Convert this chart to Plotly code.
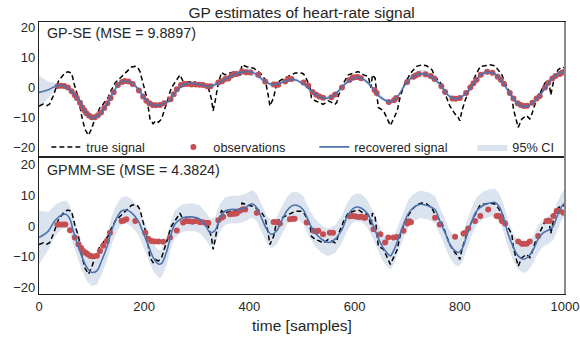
import numpy as np
import plotly.graph_objects as go
from plotly.subplots import make_subplots

# ---------------- data ----------------
true_t = [0, 8, 15, 20, 27, 37, 43, 49, 55, 62, 68, 75, 81, 87, 94, 100, 106, 111, 116, 121,
          126, 131, 135, 145, 157, 170, 176, 183, 188, 192, 198, 205, 211, 217, 222, 227, 233,
          238, 243, 248, 252, 256, 262, 268, 274, 284, 293, 300, 306, 312, 322, 328, 331, 335,
          341, 347, 354, 363, 373, 382, 386, 395, 402, 408, 417, 424, 430, 433, 436, 439, 446,
          452, 461, 474, 487, 499, 503, 509, 515, 518, 525, 534, 540, 544, 550, 557, 563, 566,
          569, 579, 588, 598, 607, 617, 626, 631, 634, 639, 642, 645, 655, 661, 668, 674, 681,
          687, 696, 703, 709, 718, 728, 737, 747, 753, 759, 766, 775, 781, 791, 797, 800, 804,
          810, 820, 829, 839, 848, 857, 867, 873, 880, 889, 899, 902, 908, 911, 918, 927, 933,
          937, 943, 949, 956, 962, 969, 973, 977, 981, 987, 994, 1000]
true_v = [-6.1, -5.5, -6.0, -5.5, -2.8, 2.1, 3.5, 4.8, 5.2, 4.8, 0.4, -3.4, -9.3, -13.7, -15.8,
          -13.7, -10.4, -8.5, -6.6, -5.8, -4.4, -3.5, -1.7, 1.6, 3.7, 5.9, 6.8, 7.0, 6.5, 5.3,
          1.6, -3.4, -10.4, -12.0, -11.0, -11.5, -10.4, -8.0, -5.0, -2.0, 0.0, 1.0, 2.6, 4.2,
          2.0, 1.8, 2.0, 1.5, 1.7, 1.0, -0.1, -3.9, -7.7, -4.4, 1.5, 5.0, 4.2, 4.8, 5.3, 4.2,
          7.5, 6.9, 6.6, 6.4, 5.3, 4.2, 2.6, 0.4, -2.8, -6.1, -3.4, 1.5, 2.6, 3.7, 4.8, 4.8,
          4.5, 2.6, 0.4, -3.4, -4.4, -5.0, -5.6, -5.2, -4.4, -5.0, -5.5, -5.0, -2.8, 1.5, 4.2,
          4.8, 5.3, 4.2, 3.7, 0.0, 4.2, 3.1, -2.3, -6.6, -7.7, -9.9, -12.6, -10.4, -7.7, -2.8,
          1.5, 3.7, 5.3, 7.0, 7.5, 7.2, 5.9, 3.7, 2.6, 1.0, -3.4, -6.1, -8.8, -9.9, -11.0,
          -7.7, -4.4, 0.4, 3.7, 7.0, 7.2, 7.5, 7.2, 5.9, 4.2, 0.4, -2.8, -7.2, -11.0, -13.2,
          -10.4, -9.3, -10.4, -8.8, -5.5, -3.4, -0.6, 1.5, 2.6, -2.5, 1.0, 4.2, 5.9, 6.8, 6.5]

# GP-SE (top)
gp_t = [0, 18, 37, 49, 62, 75, 87, 95, 103, 116, 129, 141, 154, 164, 176, 189, 202, 214, 227,
        240, 249, 255, 262, 274, 287, 306, 322, 338, 354, 370, 386, 398, 411, 424, 439, 449,
        461, 477, 490, 502, 506, 518, 531, 544, 557, 569, 582, 595, 607, 620, 633, 645, 658,
        668, 677, 687, 696, 709, 722, 734, 747, 760, 772, 778, 791, 804, 816, 829, 842, 854,
        867, 880, 893, 905, 918, 930, 943, 956, 969, 981, 994, 1000]
gp_mean = [-1.6, -0.7, 0.8, 0.4, -1.2, -3.9, -7.7, -9.5, -10.1, -8.8, -5.6, -1.7, 1.6, 2.1,
           1.6, -0.6, -3.9, -5.6, -5.9, -5.0, -4.4, -2.3, -1.2, 1.0, 1.5, 1.0, 0.4, 1.2, 2.8,
           4.2, 5.1, 5.3, 4.6, 2.8, 1.2, 1.0, 1.7, 2.6, 2.4, 1.2, 0.8, -1.2, -2.8, -3.6, -3.0,
           -1.2, 1.2, 2.8, 3.4, 2.4, 0.1, -2.6, -4.2, -4.7, -3.9, -1.7, 1.0, 3.4, 4.5, 4.5, 3.5,
           1.5, -1.3, -2.6, -3.7, -3.0, -1.2, 2.0, 4.5, 5.1, 4.5, 2.0, -1.4, -4.4, -6.1, -6.1,
           -4.4, -1.7, 1.5, 3.9, 5.1, 5.5]
gp_ci = [5.6, 2.6, 0.6, 0.5, 0.5, 0.5, 0.5, 0.5, 0.5, 0.5, 0.5, 0.6, 0.6, 0.7, 0.7, 0.6, 0.5,
         0.5, 0.5, 0.5, 0.5, 0.5, 0.5, 0.5, 0.6, 0.6, 0.7, 0.7, 0.8, 1.0, 1.2, 1.2, 1.1, 0.8,
         0.6, 0.6, 0.6, 0.6, 0.6, 0.6, 0.6, 0.6, 0.6, 0.6, 0.6, 0.6, 0.6, 0.7, 0.7, 0.7, 0.7,
         0.7, 0.6, 0.6, 0.6, 0.6, 0.7, 0.9, 1.2, 1.3, 1.1, 0.8, 0.6, 0.6, 0.6, 0.6, 0.6, 0.6,
         0.8, 0.9, 0.8, 0.6, 0.6, 0.6, 0.6, 0.6, 0.6, 0.6, 0.6, 0.6, 0.7, 0.8]
gp_obs_t = [36, 42, 48, 55, 62, 68, 72, 78, 82, 86, 90, 95, 100, 106, 112, 118, 124, 130, 136,
            142, 150, 158, 163, 170, 178, 190, 198, 204, 210, 216, 222, 230, 238, 250, 256, 262,
            270, 276, 282, 290, 298, 305, 312, 320, 326, 341, 348, 354, 360, 366, 371, 376, 386,
            394, 402, 417, 430, 446, 451, 455, 468, 474, 480, 503, 512, 520, 527, 533, 540, 556,
            563, 576, 590, 596, 600, 606, 612, 638, 642, 665, 675, 679, 700, 712, 716, 722, 735,
            745, 752, 765, 772, 786, 792, 800, 812, 820, 826, 832, 840, 852, 862, 872, 878, 884,
            895, 902, 910, 916, 922, 928, 938, 946, 952, 962, 968, 976, 982, 990, 995, 1000]
gp_obs_v = [0.5, 0.6, 0.5, 0.0, -1.2, -2.5, -3.5, -5.0, -6.5, -7.5, -8.5, -9.3, -9.8, -9.8,
            -9.2, -8.3, -6.8, -5.2, -3.5, -1.6, 0.8, 1.8, 2.2, 2.0, 1.2, -1.0, -3.0, -4.4, -5.2,
            -5.8, -5.9, -5.8, -5.2, -3.9, -2.2, -0.6, 0.8, 1.2, 1.2, 1.0, 1.0, 0.9, 0.8, 0.4,
            0.4, 1.7, 2.1, 2.8, 3.0, 4.0, 4.5, 4.5, 5.3, 5.1, 5.0, 4.2, 2.0, 1.0, 1.0, 0.9, 2.0,
            2.8, 2.8, 1.7, 0.6, -1.5, -2.4, -3.0, -3.4, -3.2, -2.3, 0.0, 2.5, 3.2, 3.4, 3.5, 3.1,
            -0.8, -1.8, -4.8, -4.2, -3.5, 1.8, 3.6, 4.0, 4.5, 4.4, 3.8, 2.8, 0.4, -1.5, -3.6,
            -3.7, -3.5, -1.8, 0.0, 1.4, 2.6, 4.2, 5.2, 4.9, 3.6, 2.6, 1.2, -1.8, -3.6, -5.2,
            -5.8, -6.1, -6.0, -5.0, -3.6, -2.8, 0.0, 1.5, 3.0, 3.8, 4.5, 5.0, 5.4]

# GPMM-SE (bottom)
mm_t = [0, 18, 30, 43, 52, 59, 65, 72, 81, 91, 100, 110, 119, 129, 138, 148, 157, 167, 176,
        189, 198, 208, 217, 227, 233, 243, 252, 258, 266, 274, 293, 306, 319, 325, 335, 344,
        354, 366, 379, 392, 405, 414, 423, 433, 442, 452, 461, 471, 480, 490, 502, 509, 515,
        525, 537, 550, 563, 576, 585, 595, 604, 613, 623, 633, 642, 652, 661, 668, 674, 684,
        693, 703, 712, 725, 741, 753, 762, 772, 781, 791, 797, 804, 813, 823, 832, 845, 857,
        867, 876, 883, 892, 902, 911, 921, 930, 940, 949, 959, 968, 978, 984, 994, 1000]
mm_mean = [-3.8, -1.6, 1.7, 3.6, 3.8, 2.2, -1.6, -5.4, -9.8, -13.6, -15.2, -14.7, -11.4, -7.0,
           -1.6, 2.7, 4.9, 5.2, 4.3, 1.6, -2.2, -6.5, -10.3, -12.5, -12.3, -8.2, -2.2, 0.5, 1.8,
           2.7, 2.9, 2.2, -0.5, -2.2, -1.4, 2.7, 4.9, 5.4, 5.4, 6.0, 7.3, 6.0, 2.7, -1.1, -2.7,
           -1.6, 1.6, 4.9, 6.5, 6.8, 5.4, 3.0, 0.5, -2.2, -4.3, -5.4, -4.3, -1.1, 2.7, 5.4, 6.2,
           5.8, 4.3, 1.1, -2.7, -6.5, -8.7, -9.8, -8.2, -3.8, 0.5, 4.3, 6.0, 7.1, 6.5, 5.3, 1.6,
           -2.2, -6.0, -8.2, -8.7, -7.6, -3.3, 1.6, 4.9, 6.8, 7.5, 7.7, 6.0, 2.7, -2.7, -7.0,
           -9.8, -10.9, -10.1, -7.6, -4.3, -2.2, -1.4, 0.0, 2.7, 6.5, 7.6]
mm_ci = [8.8, 6.2, 5.2] + [4.5] * 100
mm_obs_t = [35, 40, 45, 50, 59, 68, 75, 80, 84, 88, 92, 97, 101, 110, 116, 122, 129, 135, 157,
            161, 166, 183, 202, 208, 214, 220, 227, 236, 249, 262, 274, 280, 286, 292, 298, 306,
            312, 319, 322, 341, 347, 350, 363, 368, 372, 376, 382, 388, 392, 414, 446, 452, 458,
            477, 482, 486, 509, 522, 527, 531, 540, 553, 559, 591, 596, 601, 607, 612, 617, 620,
            636, 649, 658, 664, 674, 680, 693, 700, 704, 707, 753, 762, 791, 807, 810, 816, 829,
            839, 854, 870, 874, 876, 880, 886, 911, 918, 922, 927, 933, 949, 965, 971, 978, 984,
            990, 997]
mm_obs_v = [0.5, 0.5, 0.5, 0.5, -1.4, -3.8, -6.0, -7.2, -8.2, -8.7, -9.2, -9.8, -9.9, -9.8,
            -8.2, -6.5, -4.9, -2.2, 1.6, 1.8, 2.2, 1.6, -2.2, -4.3, -4.9, -5.1, -5.1, -5.2, -3.8,
            -1.5, 1.1, 1.6, 1.5, 1.4, 1.6, 1.2, 1.2, 1.0, 1.0, 1.9, 2.7, 3.0, 3.8, 4.0, 4.0, 4.2,
            5.0, 5.5, 5.4, 4.3, 1.3, 1.2, 0.8, 2.2, 2.4, 2.4, 1.1, -1.6, -1.8, -1.6, -2.7, -2.2,
            -2.2, 3.2, 3.3, 3.2, 2.9, 3.0, 2.8, 2.7, -1.1, -2.7, -5.4, -3.8, -3.8, -3.6, -1.6,
            0.8, 1.5, 1.2, 2.7, 0.5, -3.5, -2.5, -2.3, -0.8, 1.6, 3.3, 5.4, 3.3, 3.3, 3.0, 1.6,
            0.8, -5.1, -5.8, -5.8, -5.8, -5.1, -3.3, 1.6, 1.6, 3.3, 4.9, 4.9, 4.3]

title_text = "GP estimates of heart-rate signal"
panel_labels = ["GP-SE (MSE = 9.8897)", "GPMM-SE (MSE = 4.3824)"]
x_ticks = [0, 200, 400, 600, 800, 1000]
y_ticks = [-20, -10, 0, 10, 20]

# ---------------- styling ----------------
FONT = "Liberation Sans, Arial, sans-serif"
TXT = "#262626"
BLUE = "#4C72B0"
RED = "#C44E52"
FILL = "rgba(76,114,176,0.2)"

fig = make_subplots(rows=2, cols=1, shared_xaxes=True, vertical_spacing=0)


def band(t, mean, half):
    t = np.asarray(t, float)
    m = np.asarray(mean, float)
    h = np.asarray(half, float)
    xs = np.concatenate([t, t[::-1]])
    ys = np.concatenate([m + h, (m - h)[::-1]])
    return xs, ys


panels = [
    (1, gp_t, gp_mean, gp_ci, gp_obs_t, gp_obs_v),
    (2, mm_t, mm_mean, mm_ci, mm_obs_t, mm_obs_v),
]
for row, t, mean, ci, ot, ov in panels:
    show = row == 1
    bx, by = band(t, mean, ci)
    fig.add_trace(go.Scatter(x=bx, y=by, fill="toself", fillcolor=FILL,
                             line=dict(width=0, color=FILL), mode="lines",
                             name="95% CI", showlegend=show, legendrank=4,
                             legendwidth=48, hoverinfo="skip"), row=row, col=1)
    fig.add_trace(go.Scatter(x=true_t, y=true_v, mode="lines",
                             line=dict(color="black", width=1.5, dash="5px,3px"),
                             name="true signal", showlegend=show, legendrank=1,
                             legendwidth=82), row=row, col=1)
    fig.add_trace(go.Scatter(x=ot, y=ov, mode="markers",
                             marker=dict(color=RED, size=6, line=dict(width=0)),
                             name="observations", showlegend=show, legendrank=2,
                             legendwidth=96), row=row, col=1)
    fig.add_trace(go.Scatter(x=t, y=mean, mode="lines", line=dict(color=BLUE, width=1.6),
                             line_shape="spline",
                             name="recovered signal", showlegend=show, legendrank=3,
                             legendwidth=113), row=row, col=1)

axis_common = dict(showgrid=False, zeroline=False, ticks="", showline=True,
                   linecolor="#222", linewidth=1.2, mirror=True,
                   tickfont=dict(family=FONT, size=13, color=TXT))

fig.update_xaxes(range=[0, 1000], tickvals=x_ticks, **axis_common)
fig.update_xaxes(showticklabels=False, row=1, col=1)
fig.update_yaxes(tickvals=y_ticks, **axis_common)
fig.update_yaxes(range=[-23.0, 21.7], domain=[0.5037, 1.0], row=1, col=1)
fig.update_yaxes(range=[-22.3, 22.6], domain=[0.0, 0.5037], row=2, col=1)

annotations = [
    dict(text=panel_labels[0], x=0.011, y=0.96, xref="paper", yref="paper",
         xanchor="left", yanchor="middle", showarrow=False,
         font=dict(family=FONT, size=14.3, color=TXT)),
    dict(text=panel_labels[1], x=0.011, y=0.456, xref="paper", yref="paper",
         xanchor="left", yanchor="middle", showarrow=False,
         font=dict(family=FONT, size=14.3, color=TXT)),
    dict(text="time [samples]", x=0.5, y=-0.114, xref="paper", yref="paper",
         xanchor="center", yanchor="middle", showarrow=False,
         font=dict(family=FONT, size=15.5, color=TXT)),
]

fig.update_layout(
    width=580, height=337,
    margin=dict(l=39, r=15, t=22, b=43, autoexpand=False),
    paper_bgcolor="white", plot_bgcolor="white",
    title=dict(text=title_text, x=0.52, xanchor="center", y=0.964, yanchor="middle",
               font=dict(family=FONT, size=15.5, color=TXT)),
    annotations=annotations,
    showlegend=True,
    legend=dict(orientation="h", x=0.014, y=0.54, xanchor="left", yanchor="middle",
                bgcolor="rgba(0,0,0,0)", font=dict(family=FONT, size=12.7, color=TXT),
                entrywidthmode="pixels", itemwidth=30, traceorder="normal"),
    shapes=[dict(type="line", xref="paper", yref="paper", x0=1, x1=1, y0=0, y1=1,
                 line=dict(color="#8a8a8a", width=2))],
)

fig.write_html("out.html")
